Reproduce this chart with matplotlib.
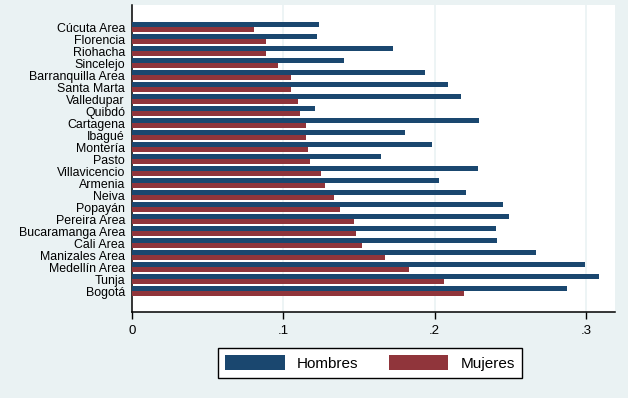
import numpy as np
import matplotlib.pyplot as plt

ciudades = ["Cúcuta Area", "Florencia", "Riohacha", "Sincelejo", "Barranquilla Area",
            "Santa Marta", "Valledupar", "Quibdó", "Cartagena", "Ibagué", "Montería",
            "Pasto", "Villavicencio", "Armenia", "Neiva", "Popayán", "Pereira Area",
            "Bucaramanga Area", "Cali Area", "Manizales Area", "Medellín Area", "Tunja",
            "Bogotá"]
hombres = [0.1236, 0.1223, 0.1725, 0.1401, 0.1937, 0.2089, 0.2174, 0.1210, 0.2293,
           0.1804, 0.1983, 0.1646, 0.2287, 0.2029, 0.2208, 0.2452, 0.2492, 0.2406,
           0.2412, 0.2670, 0.2994, 0.3087, 0.2875]
mujeres = [0.0806, 0.0886, 0.0886, 0.0965, 0.1051, 0.1051, 0.1097, 0.1110, 0.1150,
           0.1150, 0.1163, 0.1176, 0.1249, 0.1276, 0.1335, 0.1375, 0.1467, 0.1480,
           0.1520, 0.1672, 0.1831, 0.2062, 0.2194]
xticks = [0, 0.1, 0.2, 0.3]
xlabels = ["0", ".1", ".2", ".3"]

bg = "#eaf2f3"
azul = "#1a476f"
rojo = "#90353b"

plt.rcParams['font.family'] = ['Liberation Sans', 'DejaVu Sans']

fig = plt.figure(figsize=(6.28, 3.98), dpi=100, facecolor=bg)
ax = fig.add_axes([132/628, 86/398, 483/628, 307/398])
ax.set_facecolor("white")

y = np.arange(len(ciudades))
h = 0.417
ax.barh(y - h/2, hombres, height=h, color=azul, label="Hombres", zorder=3)
ax.barh(y + h/2, mujeres, height=h, color=rojo, label="Mujeres", zorder=3)

ax.set_ylim(23.75, -1.86)
ax.set_xlim(0, 0.3192)
ax.set_yticks(y)
ax.set_yticklabels(ciudades, fontsize=8.9)
ax.tick_params(axis='y', length=0, pad=5)
ax.set_xticks(xticks)
ax.set_xticklabels(xlabels, fontsize=9.5)
ax.tick_params(axis='x', length=5, width=1, pad=4)

for v in xticks[1:]:
    ax.axvline(v, color=bg, lw=1.2, zorder=1)

for s in ['top', 'right']:
    ax.spines[s].set_visible(False)
for s in ['left', 'bottom']:
    ax.spines[s].set_linewidth(1.1)

leg = fig.legend(loc='center', bbox_to_anchor=(370/628, 35/398), ncol=2,
                 fontsize=11, handlelength=3.9, handleheight=1.1, columnspacing=2.0,
                 handletextpad=0.8, fancybox=False, framealpha=1, edgecolor='black',
                 borderpad=0.45)
leg.get_frame().set_linewidth(1.0)

fig.savefig("out.png", dpi=100, facecolor=bg)
